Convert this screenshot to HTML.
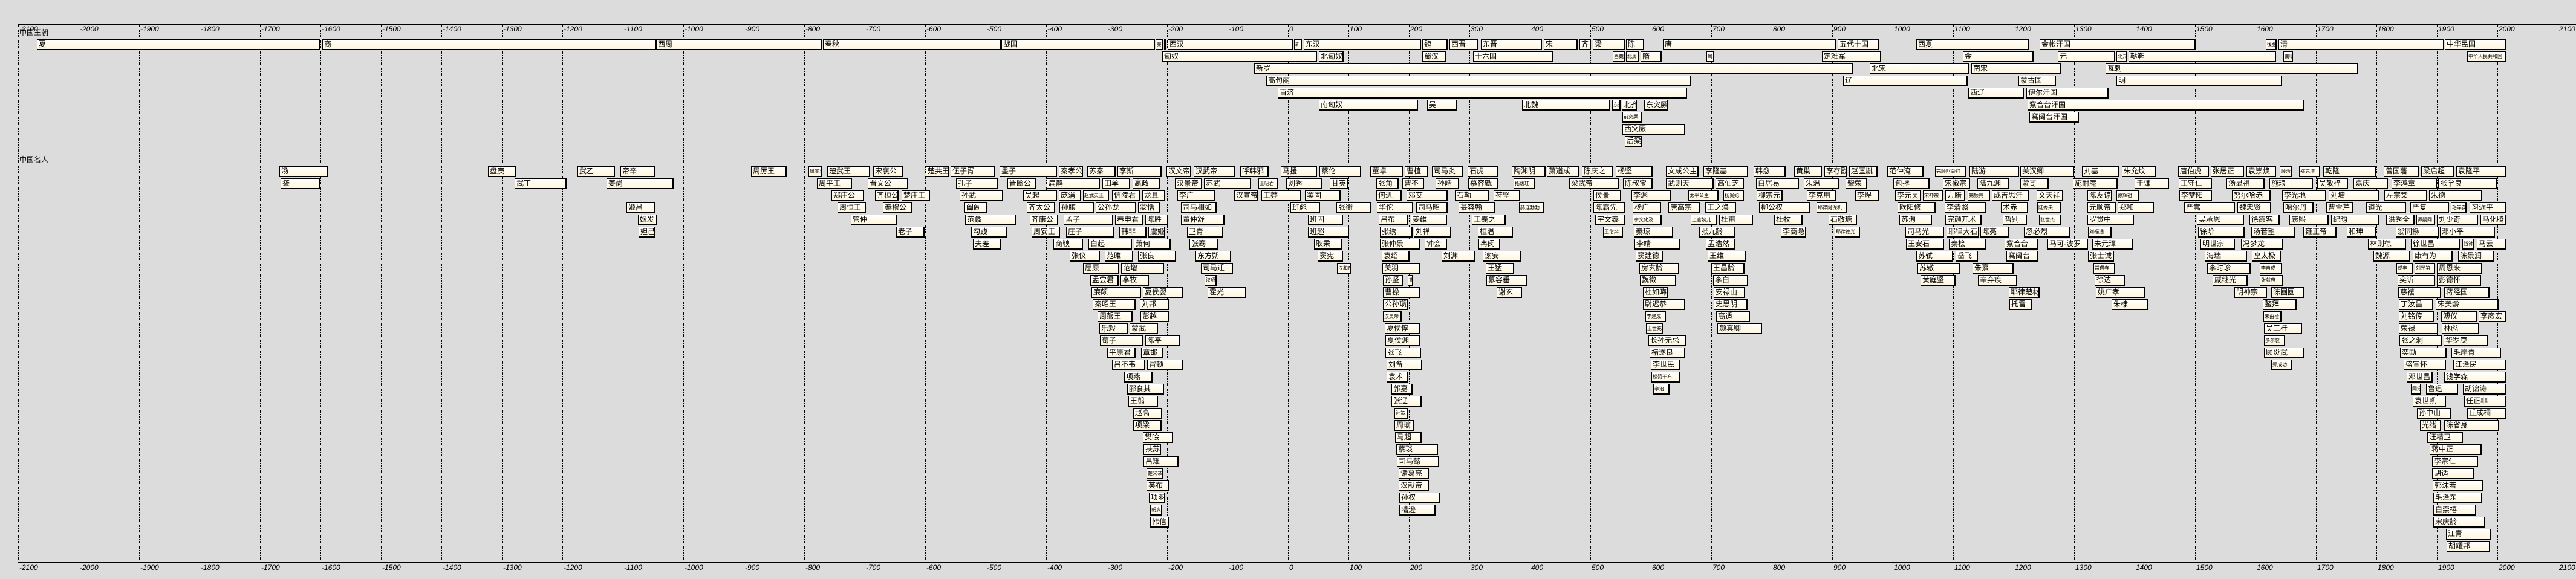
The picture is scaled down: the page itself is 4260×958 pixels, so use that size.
<!DOCTYPE html>
<html><head><meta charset="utf-8">
<style>
html,body{margin:0;padding:0}
body{width:4260px;height:958px;background:#dcdcdc;position:relative;overflow:hidden;font-family:"Liberation Sans","Noto Sans CJK SC",sans-serif}
svg{position:absolute;left:0;top:0}
.b{position:absolute;height:18px;box-sizing:border-box;border:1px solid #000;border-right-width:2px;border-bottom-width:2px;background:linear-gradient(#ffffff,#fff6dc);font:12px/15px "Liberation Sans","Noto Sans CJK SC",sans-serif;padding-left:2px;overflow:hidden;white-space:nowrap;color:#000}
.s{font-size:8px;padding-left:1px}
.lab{position:absolute;font:12px "Liberation Sans","Noto Sans CJK SC",sans-serif;color:#000}
.d0{top:65px}.d1{top:85px}.d2{top:105px}.d3{top:125px}.d4{top:145px}.d5{top:165px}.d6{top:185px}.d7{top:205px}.d8{top:225px}
.p0{top:275px}.p1{top:295px}.p2{top:315px}.p3{top:335px}.p4{top:355px}.p5{top:375px}.p6{top:395px}.p7{top:415px}.p8{top:435px}.p9{top:455px}.p10{top:475px}.p11{top:495px}.p12{top:515px}.p13{top:535px}.p14{top:555px}.p15{top:575px}.p16{top:595px}.p17{top:615px}.p18{top:635px}.p19{top:655px}.p20{top:675px}.p21{top:695px}.p22{top:715px}.p23{top:735px}.p24{top:755px}.p25{top:775px}.p26{top:795px}.p27{top:815px}.p28{top:835px}.p29{top:855px}.p30{top:875px}.p31{top:895px}
</style></head><body>
<svg width="4260" height="958" xmlns="http://www.w3.org/2000/svg">
<line x1="30" y1="40.5" x2="4260" y2="40.5" stroke="#000" stroke-width="1"/>
<line x1="30" y1="930.5" x2="4260" y2="930.5" stroke="#000" stroke-width="1"/>
<g stroke="#000" stroke-width="1" stroke-dasharray="4,2,1,2">
<line x1="30.5" y1="40" x2="30.5" y2="930"/><line x1="130.5" y1="40" x2="130.5" y2="930"/><line x1="230.5" y1="40" x2="230.5" y2="930"/><line x1="330.5" y1="40" x2="330.5" y2="930"/><line x1="430.5" y1="40" x2="430.5" y2="930"/><line x1="530.5" y1="40" x2="530.5" y2="930"/><line x1="630.5" y1="40" x2="630.5" y2="930"/><line x1="730.5" y1="40" x2="730.5" y2="930"/><line x1="830.5" y1="40" x2="830.5" y2="930"/><line x1="930.5" y1="40" x2="930.5" y2="930"/><line x1="1030.5" y1="40" x2="1030.5" y2="930"/><line x1="1130.5" y1="40" x2="1130.5" y2="930"/><line x1="1230.5" y1="40" x2="1230.5" y2="930"/><line x1="1330.5" y1="40" x2="1330.5" y2="930"/><line x1="1430.5" y1="40" x2="1430.5" y2="930"/><line x1="1530.5" y1="40" x2="1530.5" y2="930"/><line x1="1630.5" y1="40" x2="1630.5" y2="930"/><line x1="1730.5" y1="40" x2="1730.5" y2="930"/><line x1="1830.5" y1="40" x2="1830.5" y2="930"/><line x1="1930.5" y1="40" x2="1930.5" y2="930"/><line x1="2030.5" y1="40" x2="2030.5" y2="930"/><line x1="2130.5" y1="40" x2="2130.5" y2="930"/><line x1="2230.5" y1="40" x2="2230.5" y2="930"/><line x1="2330.5" y1="40" x2="2330.5" y2="930"/><line x1="2430.5" y1="40" x2="2430.5" y2="930"/><line x1="2530.5" y1="40" x2="2530.5" y2="930"/><line x1="2630.5" y1="40" x2="2630.5" y2="930"/><line x1="2730.5" y1="40" x2="2730.5" y2="930"/><line x1="2830.5" y1="40" x2="2830.5" y2="930"/><line x1="2930.5" y1="40" x2="2930.5" y2="930"/><line x1="3030.5" y1="40" x2="3030.5" y2="930"/><line x1="3130.5" y1="40" x2="3130.5" y2="930"/><line x1="3230.5" y1="40" x2="3230.5" y2="930"/><line x1="3330.5" y1="40" x2="3330.5" y2="930"/><line x1="3430.5" y1="40" x2="3430.5" y2="930"/><line x1="3530.5" y1="40" x2="3530.5" y2="930"/><line x1="3630.5" y1="40" x2="3630.5" y2="930"/><line x1="3730.5" y1="40" x2="3730.5" y2="930"/><line x1="3830.5" y1="40" x2="3830.5" y2="930"/><line x1="3930.5" y1="40" x2="3930.5" y2="930"/><line x1="4030.5" y1="40" x2="4030.5" y2="930"/><line x1="4130.5" y1="40" x2="4130.5" y2="930"/><line x1="4230.5" y1="40" x2="4230.5" y2="930"/>
</g>
<g font-family="Liberation Sans, sans-serif" font-size="12" font-style="italic" fill="#000">
<text x="32" y="52">-2100</text><text x="132" y="52">-2000</text><text x="232" y="52">-1900</text><text x="332" y="52">-1800</text><text x="432" y="52">-1700</text><text x="532" y="52">-1600</text><text x="632" y="52">-1500</text><text x="732" y="52">-1400</text><text x="832" y="52">-1300</text><text x="932" y="52">-1200</text><text x="1032" y="52">-1100</text><text x="1132" y="52">-1000</text><text x="1232" y="52">-900</text><text x="1332" y="52">-800</text><text x="1432" y="52">-700</text><text x="1532" y="52">-600</text><text x="1632" y="52">-500</text><text x="1732" y="52">-400</text><text x="1832" y="52">-300</text><text x="1932" y="52">-200</text><text x="2032" y="52">-100</text><text x="2132" y="52">0</text><text x="2232" y="52">100</text><text x="2332" y="52">200</text><text x="2432" y="52">300</text><text x="2532" y="52">400</text><text x="2632" y="52">500</text><text x="2732" y="52">600</text><text x="2832" y="52">700</text><text x="2932" y="52">800</text><text x="3032" y="52">900</text><text x="3132" y="52">1000</text><text x="3232" y="52">1100</text><text x="3332" y="52">1200</text><text x="3432" y="52">1300</text><text x="3532" y="52">1400</text><text x="3632" y="52">1500</text><text x="3732" y="52">1600</text><text x="3832" y="52">1700</text><text x="3932" y="52">1800</text><text x="4032" y="52">1900</text><text x="4132" y="52">2000</text><text x="4232" y="52">2100</text>
<text x="32" y="943">-2100</text><text x="132" y="943">-2000</text><text x="232" y="943">-1900</text><text x="332" y="943">-1800</text><text x="432" y="943">-1700</text><text x="532" y="943">-1600</text><text x="632" y="943">-1500</text><text x="732" y="943">-1400</text><text x="832" y="943">-1300</text><text x="932" y="943">-1200</text><text x="1032" y="943">-1100</text><text x="1132" y="943">-1000</text><text x="1232" y="943">-900</text><text x="1332" y="943">-800</text><text x="1432" y="943">-700</text><text x="1532" y="943">-600</text><text x="1632" y="943">-500</text><text x="1732" y="943">-400</text><text x="1832" y="943">-300</text><text x="1932" y="943">-200</text><text x="2032" y="943">-100</text><text x="2132" y="943">0</text><text x="2232" y="943">100</text><text x="2332" y="943">200</text><text x="2432" y="943">300</text><text x="2532" y="943">400</text><text x="2632" y="943">500</text><text x="2732" y="943">600</text><text x="2832" y="943">700</text><text x="2932" y="943">800</text><text x="3032" y="943">900</text><text x="3132" y="943">1000</text><text x="3232" y="943">1100</text><text x="3332" y="943">1200</text><text x="3432" y="943">1300</text><text x="3532" y="943">1400</text><text x="3632" y="943">1500</text><text x="3732" y="943">1600</text><text x="3832" y="943">1700</text><text x="3932" y="943">1800</text><text x="4032" y="943">1900</text><text x="4132" y="943">2000</text><text x="4232" y="943">2100</text>
</g>
</svg>
<div class="lab" style="left:32px;top:45px">中国王朝</div>
<div class="lab" style="left:32px;top:255px">中国名人</div>

<!-- dynasties -->
<div class="b d0" style="left:61px;width:468px">夏</div>
<div class="b d0" style="left:533px;width:552px">商</div>
<div class="b d0" style="left:1085px;width:275px">西周</div>
<div class="b d0" style="left:1361px;width:294px">春秋</div>
<div class="b d0" style="left:1656px;width:254px">战国</div>
<div class="b d0 s" style="left:1911px;width:12px">秦</div>
<div class="b d0 s" style="left:1925px;width:4px"></div>
<div class="b d0" style="left:1931px;width:207px">西汉</div>
<div class="b d0 s" style="left:2140px;width:13px">新</div>
<div class="b d0" style="left:2156px;width:194px">东汉</div>
<div class="b d0" style="left:2352px;width:42px">魏</div>
<div class="b d0" style="left:2397px;width:48px">西晋</div>
<div class="b d0" style="left:2449px;width:101px">东晋</div>
<div class="b d0" style="left:2553px;width:56px">宋</div>
<div class="b d0" style="left:2612px;width:19px">齐</div>
<div class="b d0" style="left:2634px;width:53px">梁</div>
<div class="b d0" style="left:2689px;width:30px">陈</div>
<div class="b d0" style="left:2750px;width:286px">唐</div>
<div class="b d0" style="left:3039px;width:69px">五代十国</div>
<div class="b d0" style="left:3169px;width:187px">西夏</div>
<div class="b d0" style="left:3373px;width:258px">金帐汗国</div>
<div class="b d0 s" style="left:3747px;width:18px">後金</div>
<div class="b d0" style="left:3768px;width:274px">清</div>
<div class="b d0" style="left:4043px;width:102px">中华民国</div>

<div class="b d1" style="left:1922px;width:256px">匈奴</div>
<div class="b d1" style="left:2181px;width:41px">北匈奴</div>
<div class="b d1" style="left:2352px;width:40px">蜀汉</div>
<div class="b d1" style="left:2436px;width:132px">十六国</div>
<div class="b d1 s" style="left:2667px;width:20px">西魏</div>
<div class="b d1 s" style="left:2689px;width:22px">北周</div>
<div class="b d1" style="left:2713px;width:35px">隋</div>
<div class="b d1 s" style="left:2822px;width:13px">周</div>
<div class="b d1" style="left:3013px;width:98px">定难军</div>
<div class="b d1" style="left:3246px;width:117px">金</div>
<div class="b d1" style="left:3403px;width:95px">元</div>
<div class="b d1 s" style="left:3500px;width:17px">北元</div>
<div class="b d1" style="left:3520px;width:244px">鞑靼</div>
<div class="b d1 s" style="left:3776px;width:16px">南明</div>
<div class="b d1 s" style="left:4080px;width:65px">中华人民共和国</div>

<div class="b d2" style="left:2074px;width:990px">新罗</div>
<div class="b d2" style="left:3092px;width:164px">北宋</div>
<div class="b d2" style="left:3260px;width:148px">南宋</div>
<div class="b d2" style="left:3482px;width:418px">瓦剌</div>

<div class="b d3" style="left:2094px;width:703px">高句丽</div>
<div class="b d3" style="left:3048px;width:206px">辽</div>
<div class="b d3" style="left:3338px;width:62px">蒙古国</div>
<div class="b d3" style="left:3500px;width:274px">明</div>

<div class="b d4" style="left:2113px;width:677px">百济</div>
<div class="b d4" style="left:3255px;width:92px">西辽</div>
<div class="b d4" style="left:3351px;width:136px">伊尔汗国</div>

<div class="b d5" style="left:2181px;width:164px">南匈奴</div>
<div class="b d5" style="left:2360px;width:50px">吴</div>
<div class="b d5" style="left:2517px;width:146px">北魏</div>
<div class="b d5 s" style="left:2666px;width:14px">东魏</div>
<div class="b d5" style="left:2682px;width:25px">北齐</div>
<div class="b d5" style="left:2719px;width:40px">东突厥</div>
<div class="b d5" style="left:3353px;width:457px">察合台汗国</div>

<div class="b d6 s" style="left:2683px;width:33px">前突厥</div>
<div class="b d6" style="left:3356px;width:82px">窝阔台汗国</div>
<div class="b d7" style="left:2683px;width:104px">西突厥</div>
<div class="b d8" style="left:2687px;width:29px">后梁</div>

<!-- persons row 0 -->
<div class="b p0" style="left:462px;width:81px">汤</div>
<div class="b p0" style="left:807px;width:47px">盘庚</div>
<div class="b p0" style="left:955px;width:62px">武乙</div>
<div class="b p0" style="left:1026px;width:57px">帝辛</div>
<div class="b p0" style="left:1242px;width:59px">周厉王</div>
<div class="b p0 s" style="left:1337px;width:22px">周宣王</div>
<div class="b p0" style="left:1368px;width:71px">楚武王</div>
<div class="b p0" style="left:1444px;width:49px">宋襄公</div>
<div class="b p0" style="left:1531px;width:39px">楚共王</div>
<div class="b p0" style="left:1572px;width:73px">伍子胥</div>
<div class="b p0" style="left:1653px;width:95px">墨子</div>
<div class="b p0" style="left:1751px;width:40px">秦孝公</div>
<div class="b p0" style="left:1798px;width:47px">苏秦</div>
<div class="b p0" style="left:1848px;width:73px">李斯</div>
<div class="b p0" style="left:1929px;width:41px">汉文帝</div>
<div class="b p0" style="left:1974px;width:68px">汉武帝</div>
<div class="b p0" style="left:2051px;width:47px">呼韩邪</div>
<div class="b p0" style="left:2118px;width:60px">马援</div>
<div class="b p0" style="left:2182px;width:69px">蔡伦</div>
<div class="b p0" style="left:2266px;width:55px">董卓</div>
<div class="b p0" style="left:2323px;width:39px">曹植</div>
<div class="b p0" style="left:2368px;width:52px">司马炎</div>
<div class="b p0" style="left:2427px;width:51px">石虎</div>
<div class="b p0" style="left:2500px;width:56px">陶渊明</div>
<div class="b p0" style="left:2558px;width:53px">萧道成</div>
<div class="b p0" style="left:2616px;width:52px">陈庆之</div>
<div class="b p0" style="left:2672px;width:61px">杨坚</div>
<div class="b p0" style="left:2755px;width:54px">文成公主</div>
<div class="b p0" style="left:2817px;width:74px">李隆基</div>
<div class="b p0" style="left:2900px;width:53px">韩愈</div>
<div class="b p0" style="left:2967px;width:46px">黄巢</div>
<div class="b p0" style="left:3017px;width:38px">李存勖</div>
<div class="b p0" style="left:3058px;width:47px">赵匡胤</div>
<div class="b p0" style="left:3121px;width:60px">范仲淹</div>
<div class="b p0 s" style="left:3200px;width:52px">完颜阿骨打</div>
<div class="b p0" style="left:3257px;width:82px">陆游</div>
<div class="b p0" style="left:3341px;width:89px">关汉卿</div>
<div class="b p0" style="left:3443px;width:61px">刘基</div>
<div class="b p0" style="left:3509px;width:57px">朱允炆</div>
<div class="b p0" style="left:3602px;width:51px">唐伯虎</div>
<div class="b p0" style="left:3656px;width:55px">张居正</div>
<div class="b p0" style="left:3715px;width:49px">袁崇焕</div>
<div class="b p0 s" style="left:3770px;width:20px">顺治</div>
<div class="b p0 s" style="left:3802px;width:35px">郑克塽</div>
<div class="b p0" style="left:3842px;width:87px">乾隆</div>
<div class="b p0" style="left:3942px;width:59px">曾国藩</div>
<div class="b p0" style="left:4004px;width:54px">梁启超</div>
<div class="b p0" style="left:4062px;width:83px">袁隆平</div>

<!-- row 1 -->
<div class="b p1" style="left:464px;width:65px">桀</div>
<div class="b p1" style="left:851px;width:86px">武丁</div>
<div class="b p1" style="left:1003px;width:111px">姜尚</div>
<div class="b p1" style="left:1351px;width:58px">周平王</div>
<div class="b p1" style="left:1435px;width:67px">晋文公</div>
<div class="b p1" style="left:1581px;width:69px">孔子</div>
<div class="b p1" style="left:1666px;width:47px">晋幽公</div>
<div class="b p1" style="left:1731px;width:88px">扁鹊</div>
<div class="b p1" style="left:1823px;width:46px">田单</div>
<div class="b p1" style="left:1873px;width:46px">嬴政</div>
<div class="b p1" style="left:1943px;width:45px">汉景帝</div>
<div class="b p1" style="left:1991px;width:78px">苏武</div>
<div class="b p1 s" style="left:2081px;width:33px">王昭君</div>
<div class="b p1" style="left:2127px;width:59px">刘秀</div>
<div class="b p1" style="left:2199px;width:30px">甘英</div>
<div class="b p1" style="left:2276px;width:37px">张角</div>
<div class="b p1" style="left:2319px;width:36px">曹丕</div>
<div class="b p1" style="left:2374px;width:39px">孙皓</div>
<div class="b p1" style="left:2428px;width:49px">慕容皝</div>
<div class="b p1 s" style="left:2503px;width:35px">拓跋珪</div>
<div class="b p1" style="left:2595px;width:83px">梁武帝</div>
<div class="b p1" style="left:2684px;width:49px">陈叔宝</div>
<div class="b p1" style="left:2755px;width:79px">武则天</div>
<div class="b p1" style="left:2837px;width:47px">高仙芝</div>
<div class="b p1" style="left:2904px;width:71px">白居易</div>
<div class="b p1" style="left:2983px;width:58px">朱温</div>
<div class="b p1" style="left:3052px;width:36px">柴荣</div>
<div class="b p1" style="left:3131px;width:60px">包拯</div>
<div class="b p1" style="left:3213px;width:45px">宋徽宗</div>
<div class="b p1" style="left:3270px;width:52px">陆九渊</div>
<div class="b p1" style="left:3341px;width:47px">蒙哥</div>
<div class="b p1" style="left:3428px;width:74px">施耐庵</div>
<div class="b p1" style="left:3530px;width:57px">于谦</div>
<div class="b p1" style="left:3603px;width:55px">王守仁</div>
<div class="b p1" style="left:3682px;width:63px">汤显祖</div>
<div class="b p1" style="left:3753px;width:72px">施琅</div>
<div class="b p1" style="left:3832px;width:51px">吴敬梓</div>
<div class="b p1" style="left:3892px;width:57px">嘉庆</div>
<div class="b p1" style="left:3955px;width:75px">李鸿章</div>
<div class="b p1" style="left:4032px;width:98px">张学良</div>

<!-- row 2 -->
<div class="b p2" style="left:1375px;width:54px">郑庄公</div>
<div class="b p2" style="left:1447px;width:39px">齐桓公</div>
<div class="b p2" style="left:1491px;width:47px">楚庄王</div>
<div class="b p2" style="left:1587px;width:72px">孙武</div>
<div class="b p2" style="left:1692px;width:56px">吴起</div>
<div class="b p2" style="left:1751px;width:37px">庞涓</div>
<div class="b p2 s" style="left:1791px;width:43px">赵武灵王</div>
<div class="b p2" style="left:1839px;width:47px">信陵君</div>
<div class="b p2" style="left:1889px;width:38px">龙且</div>
<div class="b p2" style="left:1947px;width:63px">李广</div>
<div class="b p2" style="left:2041px;width:40px">汉宣帝</div>
<div class="b p2" style="left:2086px;width:66px">王莽</div>
<div class="b p2" style="left:2158px;width:59px">窦固</div>
<div class="b p2" style="left:2276px;width:42px">何进</div>
<div class="b p2" style="left:2326px;width:68px">邓艾</div>
<div class="b p2" style="left:2406px;width:56px">石勒</div>
<div class="b p2" style="left:2470px;width:44px">苻坚</div>
<div class="b p2" style="left:2635px;width:46px">侯景</div>
<div class="b p2" style="left:2698px;width:66px">李渊</div>
<div class="b p2 s" style="left:2792px;width:50px">太平公主</div>
<div class="b p2 s" style="left:2850px;width:34px">杨贵妃</div>
<div class="b p2" style="left:2905px;width:43px">柳宗元</div>
<div class="b p2" style="left:2988px;width:49px">李克用</div>
<div class="b p2" style="left:3068px;width:39px">李煜</div>
<div class="b p2" style="left:3134px;width:43px">李元昊</div>
<div class="b p2 s" style="left:3180px;width:34px">宋神宗</div>
<div class="b p2" style="left:3217px;width:33px">方腊</div>
<div class="b p2 s" style="left:3254px;width:37px">完颜亮</div>
<div class="b p2" style="left:3294px;width:62px">成吉思汗</div>
<div class="b p2" style="left:3368px;width:44px">文天祥</div>
<div class="b p2" style="left:3452px;width:41px">陈友谅</div>
<div class="b p2 s" style="left:3500px;width:37px">徐辉祖</div>
<div class="b p2" style="left:3604px;width:54px">李梦阳</div>
<div class="b p2" style="left:3691px;width:64px">努尔哈赤</div>
<div class="b p2" style="left:3774px;width:73px">李光地</div>
<div class="b p2" style="left:3851px;width:83px">刘墉</div>
<div class="b p2" style="left:3943px;width:71px">左宗棠</div>
<div class="b p2" style="left:4017px;width:88px">朱德</div>

<!-- row 3 -->
<div class="b p3" style="left:1036px;width:47px">姬昌</div>
<div class="b p3" style="left:1385px;width:47px">周恒王</div>
<div class="b p3" style="left:1460px;width:48px">秦穆公</div>
<div class="b p3" style="left:1595px;width:38px">阖闾</div>
<div class="b p3" style="left:1698px;width:47px">齐太公</div>
<div class="b p3" style="left:1752px;width:57px">孙膑</div>
<div class="b p3" style="left:1812px;width:67px">公孙龙</div>
<div class="b p3" style="left:1882px;width:37px">蒙恬</div>
<div class="b p3" style="left:1953px;width:59px">司马相如</div>
<div class="b p3" style="left:2134px;width:49px">班彪</div>
<div class="b p3" style="left:2210px;width:58px">张衡</div>
<div class="b p3" style="left:2277px;width:60px">华佗</div>
<div class="b p3" style="left:2342px;width:52px">司马昭</div>
<div class="b p3" style="left:2412px;width:61px">慕容翰</div>
<div class="b p3 s" style="left:2512px;width:42px">赫连勃勃</div>
<div class="b p3" style="left:2635px;width:53px">陈霸先</div>
<div class="b p3" style="left:2700px;width:47px">杨广</div>
<div class="b p3" style="left:2759px;width:53px">唐高宗</div>
<div class="b p3" style="left:2820px;width:51px">王之涣</div>
<div class="b p3" style="left:2909px;width:85px">柳公权</div>
<div class="b p3 s" style="left:3004px;width:51px">耶律阿保机</div>
<div class="b p3" style="left:3138px;width:63px">欧阳修</div>
<div class="b p3" style="left:3216px;width:68px">李清照</div>
<div class="b p3" style="left:3309px;width:45px">术赤</div>
<div class="b p3 s" style="left:3369px;width:39px">陆秀夫</div>
<div class="b p3" style="left:3452px;width:47px">元顺帝</div>
<div class="b p3" style="left:3502px;width:60px">郑和</div>
<div class="b p3" style="left:3612px;width:84px">严嵩</div>
<div class="b p3" style="left:3700px;width:56px">魏忠贤</div>
<div class="b p3" style="left:3776px;width:50px">噶尔丹</div>
<div class="b p3" style="left:3847px;width:45px">曹雪芹</div>
<div class="b p3" style="left:3913px;width:66px">道光</div>
<div class="b p3" style="left:3986px;width:64px">严复</div>
<div class="b p3 s" style="left:4053px;width:26px">毛岸英</div>
<div class="b p3" style="left:4084px;width:61px">习近平</div>

<!-- row 4 -->
<div class="b p4" style="left:1055px;width:32px">姬发</div>
<div class="b p4" style="left:1407px;width:77px">管仲</div>
<div class="b p4" style="left:1596px;width:85px">范蠡</div>
<div class="b p4" style="left:1703px;width:47px">齐康公</div>
<div class="b p4" style="left:1759px;width:82px">孟子</div>
<div class="b p4" style="left:1844px;width:47px">春申君</div>
<div class="b p4" style="left:1894px;width:38px">陈胜</div>
<div class="b p4" style="left:1953px;width:72px">董仲舒</div>
<div class="b p4" style="left:2163px;width:58px">班固</div>
<div class="b p4" style="left:2280px;width:49px">吕布</div>
<div class="b p4" style="left:2333px;width:60px">姜维</div>
<div class="b p4" style="left:2434px;width:56px">王羲之</div>
<div class="b p4" style="left:2638px;width:50px">宇文泰</div>
<div class="b p4 s" style="left:2700px;width:48px">宇文化及</div>
<div class="b p4 s" style="left:2796px;width:43px">上官婉儿</div>
<div class="b p4" style="left:2843px;width:56px">杜甫</div>
<div class="b p4" style="left:2934px;width:47px">杜牧</div>
<div class="b p4" style="left:3024px;width:47px">石敬瑭</div>
<div class="b p4" style="left:3141px;width:54px">苏洵</div>
<div class="b p4" style="left:3217px;width:60px">完颜兀术</div>
<div class="b p4" style="left:3312px;width:40px">哲别</div>
<div class="b p4 s" style="left:3372px;width:36px">张世杰</div>
<div class="b p4" style="left:3452px;width:77px">罗贯中</div>
<div class="b p4" style="left:3633px;width:78px">吴承恩</div>
<div class="b p4" style="left:3720px;width:50px">徐霞客</div>
<div class="b p4" style="left:3786px;width:65px">康熙</div>
<div class="b p4" style="left:3855px;width:79px">纪昀</div>
<div class="b p4" style="left:3946px;width:47px">洪秀全</div>
<div class="b p4 s" style="left:3996px;width:31px">谭嗣同</div>
<div class="b p4" style="left:4030px;width:68px">刘少奇</div>
<div class="b p4" style="left:4102px;width:43px">马化腾</div>

<!-- row 5 -->
<div class="b p5" style="left:1056px;width:27px">妲己</div>
<div class="b p5" style="left:1482px;width:47px">老子</div>
<div class="b p5" style="left:1606px;width:59px">勾践</div>
<div class="b p5" style="left:1706px;width:47px">周安王</div>
<div class="b p5" style="left:1763px;width:80px">庄子</div>
<div class="b p5" style="left:1851px;width:45px">韩非</div>
<div class="b p5" style="left:1899px;width:28px">虞姬</div>
<div class="b p5" style="left:1963px;width:60px">卫青</div>
<div class="b p5" style="left:2163px;width:68px">班超</div>
<div class="b p5" style="left:2282px;width:54px">张绣</div>
<div class="b p5" style="left:2338px;width:62px">刘禅</div>
<div class="b p5" style="left:2444px;width:58px">桓温</div>
<div class="b p5 s" style="left:2651px;width:33px">王僧辩</div>
<div class="b p5" style="left:2702px;width:65px">秦琼</div>
<div class="b p5" style="left:2810px;width:59px">张九龄</div>
<div class="b p5" style="left:2945px;width:42px">李商隐</div>
<div class="b p5 s" style="left:3034px;width:42px">耶律德光</div>
<div class="b p5" style="left:3151px;width:64px">司马光</div>
<div class="b p5" style="left:3219px;width:54px">耶律大石</div>
<div class="b p5" style="left:3275px;width:48px">陈亮</div>
<div class="b p5" style="left:3347px;width:76px">忽必烈</div>
<div class="b p5 s" style="left:3453px;width:39px">刘福通</div>
<div class="b p5" style="left:3635px;width:77px">徐阶</div>
<div class="b p5" style="left:3723px;width:72px">汤若望</div>
<div class="b p5" style="left:3809px;width:55px">雍正帝</div>
<div class="b p5" style="left:3881px;width:48px">和珅</div>
<div class="b p5" style="left:3962px;width:71px">翁同龢</div>
<div class="b p5" style="left:4035px;width:91px">邓小平</div>

<!-- row 6 -->
<div class="b p6" style="left:1609px;width:47px">夫差</div>
<div class="b p6" style="left:1742px;width:49px">商鞅</div>
<div class="b p6" style="left:1800px;width:72px">白起</div>
<div class="b p6" style="left:1875px;width:61px">萧何</div>
<div class="b p6" style="left:1967px;width:48px">张骞</div>
<div class="b p6" style="left:2173px;width:47px">耿秉</div>
<div class="b p6" style="left:2282px;width:66px">张仲景</div>
<div class="b p6" style="left:2356px;width:37px">钟会</div>
<div class="b p6" style="left:2445px;width:36px">冉闵</div>
<div class="b p6" style="left:2703px;width:75px">李靖</div>
<div class="b p6" style="left:2821px;width:48px">孟浩然</div>
<div class="b p6" style="left:3152px;width:63px">王安石</div>
<div class="b p6" style="left:3223px;width:61px">秦桧</div>
<div class="b p6" style="left:3315px;width:55px">察合台</div>
<div class="b p6" style="left:3386px;width:67px">马可·波罗</div>
<div class="b p6" style="left:3460px;width:67px">朱元璋</div>
<div class="b p6" style="left:3639px;width:57px">明世宗</div>
<div class="b p6" style="left:3706px;width:69px">冯梦龙</div>
<div class="b p6" style="left:3916px;width:63px">林则徐</div>
<div class="b p6" style="left:3987px;width:81px">徐世昌</div>
<div class="b p6 s" style="left:4072px;width:19px">钱钟书</div>
<div class="b p6" style="left:4096px;width:49px">马云</div>

<!-- row 7 -->
<div class="b p7" style="left:1769px;width:50px">张仪</div>
<div class="b p7" style="left:1827px;width:47px">范雎</div>
<div class="b p7" style="left:1882px;width:63px">张良</div>
<div class="b p7" style="left:1977px;width:59px">东方朔</div>
<div class="b p7" style="left:2179px;width:42px">窦宪</div>
<div class="b p7" style="left:2285px;width:46px">袁绍</div>
<div class="b p7" style="left:2384px;width:55px">刘渊</div>
<div class="b p7" style="left:2452px;width:63px">谢安</div>
<div class="b p7" style="left:2705px;width:45px">窦建德</div>
<div class="b p7" style="left:2824px;width:64px">王维</div>
<div class="b p7" style="left:3169px;width:61px">苏轼</div>
<div class="b p7" style="left:3234px;width:37px">岳飞</div>
<div class="b p7" style="left:3318px;width:52px">窝阔台</div>
<div class="b p7" style="left:3453px;width:43px">张士诚</div>
<div class="b p7" style="left:3646px;width:70px">海瑞</div>
<div class="b p7" style="left:3724px;width:48px">皇太极</div>
<div class="b p7" style="left:3925px;width:61px">魏源</div>
<div class="b p7" style="left:3990px;width:66px">康有为</div>
<div class="b p7" style="left:4065px;width:60px">陈景润</div>

<!-- row 8 -->
<div class="b p8" style="left:1791px;width:60px">屈原</div>
<div class="b p8" style="left:1854px;width:71px">范增</div>
<div class="b p8" style="left:1986px;width:53px">司马迁</div>
<div class="b p8 s" style="left:2211px;width:24px">汉和帝</div>
<div class="b p8" style="left:2286px;width:63px">关羽</div>
<div class="b p8" style="left:2457px;width:47px">王猛</div>
<div class="b p8" style="left:2711px;width:66px">房玄龄</div>
<div class="b p8" style="left:2830px;width:55px">王昌龄</div>
<div class="b p8" style="left:3171px;width:70px">苏辙</div>
<div class="b p8" style="left:3262px;width:68px">朱熹</div>
<div class="b p8 s" style="left:3462px;width:36px">常遇春</div>
<div class="b p8" style="left:3650px;width:72px">李时珍</div>
<div class="b p8 s" style="left:3737px;width:37px">李自成</div>
<div class="b p8 s" style="left:3963px;width:27px">咸丰</div>
<div class="b p8 s" style="left:3993px;width:34px">刘光第</div>
<div class="b p8" style="left:4030px;width:75px">周恩来</div>

<!-- row 9 -->
<div class="b p9" style="left:1803px;width:47px">孟尝君</div>
<div class="b p9" style="left:1853px;width:47px">李牧</div>
<div class="b p9 s" style="left:1992px;width:20px">汉昭帝</div>
<div class="b p9" style="left:2287px;width:33px">孙坚</div>
<div class="b p9 s" style="left:2328px;width:9px">曹髦</div>
<div class="b p9" style="left:2458px;width:67px">慕容垂</div>
<div class="b p9" style="left:2712px;width:60px">魏徵</div>
<div class="b p9" style="left:2833px;width:58px">李白</div>
<div class="b p9" style="left:3176px;width:58px">黄庭坚</div>
<div class="b p9" style="left:3271px;width:65px">辛弃疾</div>
<div class="b p9" style="left:3464px;width:50px">徐达</div>
<div class="b p9" style="left:3659px;width:58px">戚继光</div>
<div class="b p9 s" style="left:3737px;width:39px">张献忠</div>
<div class="b p9" style="left:3965px;width:62px">奕䜣</div>
<div class="b p9" style="left:4030px;width:73px">彭德怀</div>

<!-- row 10 -->
<div class="b p10" style="left:1805px;width:82px">廉颇</div>
<div class="b p10" style="left:1890px;width:67px">夏侯婴</div>
<div class="b p10" style="left:1997px;width:64px">霍光</div>
<div class="b p10" style="left:2287px;width:62px">曹操</div>
<div class="b p10" style="left:2475px;width:42px">谢玄</div>
<div class="b p10" style="left:2717px;width:42px">杜如晦</div>
<div class="b p10" style="left:2834px;width:52px">安禄山</div>
<div class="b p10" style="left:3322px;width:51px">耶律楚材</div>
<div class="b p10" style="left:3466px;width:81px">姚广孝</div>
<div class="b p10" style="left:3695px;width:54px">明神宗</div>
<div class="b p10" style="left:3756px;width:54px">陈圆圆</div>
<div class="b p10" style="left:3966px;width:71px">慈禧</div>
<div class="b p10" style="left:4042px;width:75px">蒋经国</div>

<!-- row 11 -->
<div class="b p11" style="left:1807px;width:71px">秦昭王</div>
<div class="b p11" style="left:1885px;width:49px">刘邦</div>
<div class="b p11" style="left:2287px;width:42px">公孙瓒</div>
<div class="b p11" style="left:2717px;width:70px">尉迟恭</div>
<div class="b p11" style="left:2834px;width:56px">史思明</div>
<div class="b p11" style="left:3323px;width:38px">托雷</div>
<div class="b p11" style="left:3492px;width:61px">朱棣</div>
<div class="b p11" style="left:3742px;width:56px">鳌拜</div>
<div class="b p11" style="left:3967px;width:57px">丁汝昌</div>
<div class="b p11" style="left:4028px;width:104px">宋美龄</div>

<!-- row 12 -->
<div class="b p12" style="left:1815px;width:58px">周赧王</div>
<div class="b p12" style="left:1886px;width:47px">彭越</div>
<div class="b p12 s" style="left:2287px;width:31px">汉灵帝</div>
<div class="b p12 s" style="left:2721px;width:34px">李建成</div>
<div class="b p12" style="left:2838px;width:56px">高适</div>
<div class="b p12 s" style="left:3743px;width:30px">朱由检</div>
<div class="b p12" style="left:3967px;width:58px">刘铭传</div>
<div class="b p12" style="left:4037px;width:59px">溥仪</div>
<div class="b p12" style="left:4099px;width:46px">李彦宏</div>

<!-- row 13 -->
<div class="b p13" style="left:1818px;width:47px">乐毅</div>
<div class="b p13" style="left:1868px;width:47px">蒙武</div>
<div class="b p13" style="left:2290px;width:59px">夏侯惇</div>
<div class="b p13 s" style="left:2722px;width:28px">王世充</div>
<div class="b p13" style="left:2840px;width:74px">颜真卿</div>
<div class="b p13" style="left:3744px;width:63px">吴三桂</div>
<div class="b p13" style="left:3967px;width:65px">荣禄</div>
<div class="b p13" style="left:4038px;width:62px">林彪</div>

<!-- row 14 -->
<div class="b p14" style="left:1819px;width:72px">荀子</div>
<div class="b p14" style="left:1894px;width:57px">陈平</div>
<div class="b p14" style="left:2291px;width:57px">夏侯渊</div>
<div class="b p14" style="left:2726px;width:62px">长孙无忌</div>
<div class="b p14 s" style="left:3744px;width:35px">多尔衮</div>
<div class="b p14" style="left:3968px;width:70px">张之洞</div>
<div class="b p14" style="left:4041px;width:73px">华罗庚</div>

<!-- row 15 -->
<div class="b p15" style="left:1831px;width:47px">平原君</div>
<div class="b p15" style="left:1887px;width:37px">章邯</div>
<div class="b p15" style="left:2291px;width:59px">张飞</div>
<div class="b p15" style="left:2728px;width:59px">褚遂良</div>
<div class="b p15" style="left:3744px;width:67px">顾炎武</div>
<div class="b p15" style="left:3969px;width:77px">奕劻</div>
<div class="b p15" style="left:4054px;width:82px">毛岸青</div>

<!-- row 16 -->
<div class="b p16" style="left:1839px;width:55px">吕不韦</div>
<div class="b p16" style="left:1897px;width:59px">冒顿</div>
<div class="b p16" style="left:2293px;width:59px">刘备</div>
<div class="b p16" style="left:2730px;width:48px">李世民</div>
<div class="b p16 s" style="left:3756px;width:35px">郑成功</div>
<div class="b p16" style="left:3975px;width:70px">盛宣怀</div>
<div class="b p16" style="left:4057px;width:88px">江泽民</div>

<!-- row 17 -->
<div class="b p17" style="left:1859px;width:47px">项燕</div>
<div class="b p17" style="left:2293px;width:36px">袁术</div>
<div class="b p17 s" style="left:2731px;width:48px">松赞干布</div>
<div class="b p17" style="left:3980px;width:43px">邓世昌</div>
<div class="b p17" style="left:4042px;width:103px">钱学森</div>

<!-- row 18 -->
<div class="b p18" style="left:1864px;width:61px">郦食其</div>
<div class="b p18" style="left:2301px;width:35px">郭嘉</div>
<div class="b p18 s" style="left:2734px;width:27px">李治</div>
<div class="b p18 s" style="left:3987px;width:17px">同治</div>
<div class="b p18" style="left:4012px;width:53px">鲁迅</div>
<div class="b p18" style="left:4073px;width:72px">胡锦涛</div>

<!-- row 19 -->
<div class="b p19" style="left:1866px;width:49px">王翦</div>
<div class="b p19" style="left:2301px;width:50px">张辽</div>
<div class="b p19" style="left:3990px;width:55px">袁世凯</div>
<div class="b p19" style="left:4075px;width:70px">任正非</div>

<!-- row 20 -->
<div class="b p20" style="left:1874px;width:48px">赵高</div>
<div class="b p20 s" style="left:2306px;width:23px">孙策</div>
<div class="b p20" style="left:3997px;width:57px">孙中山</div>
<div class="b p20" style="left:4080px;width:65px">丘成桐</div>

<!-- row 21 -->
<div class="b p21" style="left:1874px;width:47px">项梁</div>
<div class="b p21" style="left:2306px;width:33px">周瑜</div>
<div class="b p21" style="left:4002px;width:35px">光绪</div>
<div class="b p21" style="left:4042px;width:91px">陈省身</div>

<!-- rows 22-31 -->
<div class="b p22" style="left:1890px;width:50px">樊哙</div>
<div class="b p22" style="left:2307px;width:44px">马超</div>
<div class="b p22" style="left:4014px;width:59px">汪精卫</div>
<div class="b p23" style="left:1891px;width:29px">扶苏</div>
<div class="b p23" style="left:2309px;width:69px">蔡琰</div>
<div class="b p23" style="left:4018px;width:86px">蒋中正</div>
<div class="b p24" style="left:1891px;width:58px">吕雉</div>
<div class="b p24" style="left:2310px;width:70px">司马懿</div>
<div class="b p24" style="left:4022px;width:76px">李宗仁</div>
<div class="b p25 s" style="left:1896px;width:27px">楚义帝</div>
<div class="b p25" style="left:2313px;width:50px">诸葛亮</div>
<div class="b p25" style="left:4022px;width:69px">胡适</div>
<div class="b p26" style="left:1896px;width:38px">英布</div>
<div class="b p26" style="left:2313px;width:50px">汉献帝</div>
<div class="b p26" style="left:4023px;width:84px">郭沫若</div>
<div class="b p27" style="left:1900px;width:27px">项羽</div>
<div class="b p27" style="left:2314px;width:67px">孙权</div>
<div class="b p27" style="left:4024px;width:81px">毛泽东</div>
<div class="b p28 s" style="left:1902px;width:20px">胡亥</div>
<div class="b p28" style="left:2314px;width:60px">陆逊</div>
<div class="b p28" style="left:4024px;width:71px">白崇禧</div>
<div class="b p29" style="left:1902px;width:31px">韩信</div>
<div class="b p29" style="left:4024px;width:86px">宋庆龄</div>
<div class="b p30" style="left:4045px;width:75px">江青</div>
<div class="b p31" style="left:4046px;width:72px">胡耀邦</div>
</body></html>
